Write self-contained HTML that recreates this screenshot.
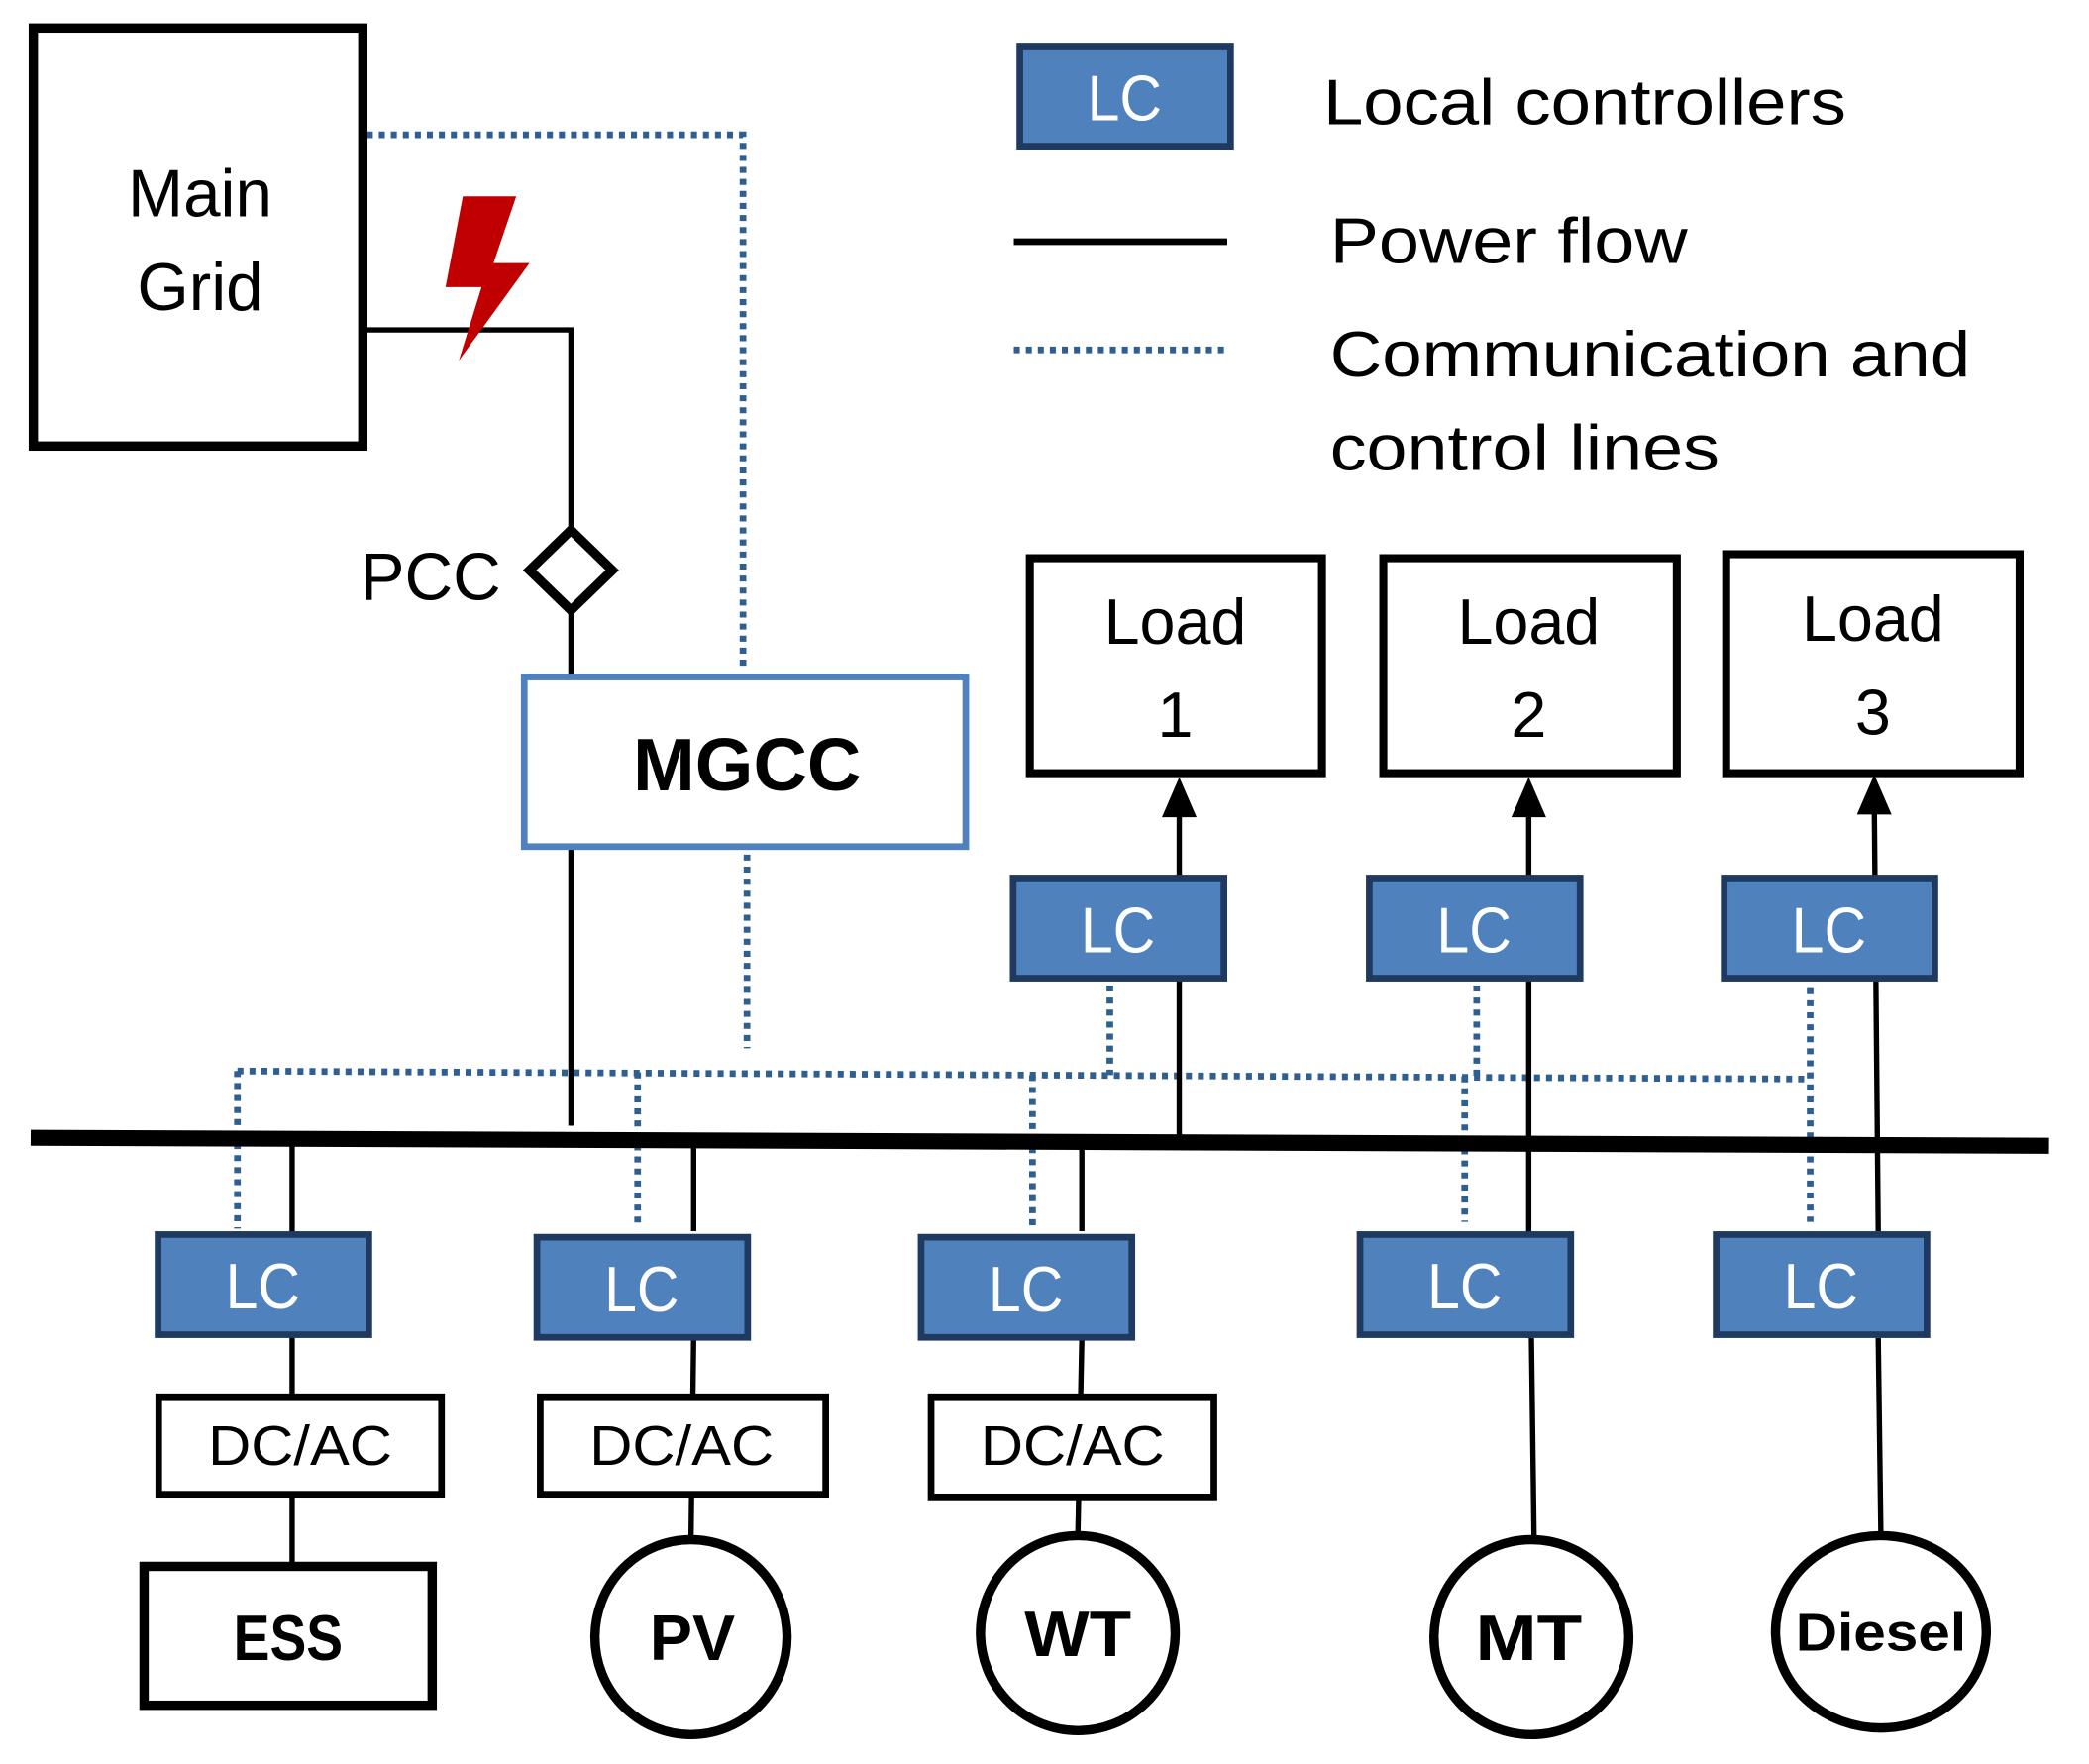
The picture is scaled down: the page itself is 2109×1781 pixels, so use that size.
<!DOCTYPE html>
<html><head><style>html,body{margin:0;padding:0;background:#fff}svg{display:block}</style></head>
<body>
<svg width="2109" height="1781" viewBox="0 0 1566 1321" preserveAspectRatio="none" xmlns="http://www.w3.org/2000/svg" font-family="Liberation Sans, sans-serif">
<defs>
<g id="lc"><rect x="2.5" y="2.5" width="158" height="75" fill="#4f81bd" stroke="#1f3a60" stroke-width="5"/><text x="81" y="58" font-size="48" fill="#fff" text-anchor="middle" textLength="56" lengthAdjust="spacingAndGlyphs">LC</text></g>
</defs>
<g stroke="#2f5f91" stroke-width="5" stroke-dasharray="4.5 4.5" fill="none">
<polyline points="275,101 557,101 557,500"/>
<line x1="560" y1="640" x2="560" y2="785"/>
<line x1="178" y1="802" x2="1355" y2="808"/>
<line x1="178" y1="802" x2="178" y2="920"/>
<line x1="478" y1="803" x2="478" y2="920"/>
<line x1="774" y1="805" x2="774" y2="920"/>
<line x1="832" y1="738" x2="832" y2="805"/>
<line x1="1107" y1="738" x2="1107" y2="806"/>
<line x1="1098" y1="806" x2="1098" y2="915"/>
<line x1="1357" y1="740" x2="1357" y2="915"/>
<line x1="760" y1="262" x2="918" y2="262"/>
</g>
<g stroke="#000" stroke-width="4" fill="none">
<polyline points="275,247 428,247 428,400"/>
<line x1="428" y1="455" x2="428" y2="505"/>
<line x1="428" y1="635" x2="428" y2="843"/>
<line x1="884" y1="853" x2="884" y2="600"/>
<line x1="1146" y1="1002" x2="1146" y2="600"/>
<line x1="1405" y1="600" x2="1408" y2="922"/>
<line x1="1408" y1="1002" x2="1410" y2="1150"/>
<line x1="1148" y1="1002" x2="1150" y2="1152"/>
<line x1="219" y1="858" x2="219" y2="1172"/>
<line x1="520" y1="858" x2="520" y2="922"/>
<line x1="520" y1="1002" x2="518" y2="1153"/>
<line x1="811" y1="858" x2="811" y2="922"/>
<line x1="811" y1="1002" x2="808" y2="1150"/>
<line x1="760" y1="181" x2="920" y2="181" stroke-width="5"/>
</g>
<polygon points="884,582 871,612 897,612" fill="#000"/>
<polygon points="1146,582 1133,612 1159,612" fill="#000"/>
<polygon points="1405,580 1392,610 1418,610" fill="#000"/>
<line x1="23" y1="852" x2="1536" y2="858" stroke="#000" stroke-width="12"/>
<rect x="25" y="21" width="247" height="313" fill="none" stroke="#000" stroke-width="7"/>
<text x="150" y="162" font-size="50" text-anchor="middle">Main</text>
<text x="150" y="232" font-size="50" text-anchor="middle">Grid</text>
<polygon points="347,147 387,147 370,197 397,197 344,270 361,215 334,215" fill="#c00000"/>
<polygon points="428,397 459,427 428,457 397,427" fill="#fff" stroke="#000" stroke-width="7"/>
<text x="270" y="449" font-size="50">PCC</text>
<rect x="393" y="507" width="331" height="127" fill="#fff" stroke="#4f81bd" stroke-width="5"/>
<text x="560" y="592" font-size="56" font-weight="bold" text-anchor="middle">MGCC</text>
<g fill="#fff" stroke="#000" stroke-width="6">
<rect x="772" y="418" width="219" height="161"/>
<rect x="1037" y="418" width="220" height="161"/>
<rect x="1294" y="415" width="220" height="164"/>
</g>
<g font-size="48" text-anchor="middle">
<text x="881" y="482">Load</text><text x="881" y="552">1</text>
<text x="1146" y="482">Load</text><text x="1146" y="552">2</text>
<text x="1404" y="480">Load</text><text x="1404" y="550">3</text>
</g>
<use href="#lc" x="757" y="655"/>
<use href="#lc" x="1024" y="655"/>
<use href="#lc" x="1290" y="655"/>
<use href="#lc" x="116" y="922"/>
<use href="#lc" x="400" y="924"/>
<use href="#lc" x="688" y="924"/>
<use href="#lc" x="1017" y="922"/>
<use href="#lc" x="1284" y="922"/>
<use href="#lc" x="762" y="32"/>
<g fill="#fff" stroke="#000" stroke-width="5">
<rect x="119" y="1046" width="212" height="73"/>
<rect x="405" y="1046" width="214" height="73"/>
<rect x="698" y="1046" width="212" height="75"/>
<rect x="108" y="1173" width="216" height="104" stroke-width="7"/>
<ellipse cx="518" cy="1226" rx="72" ry="73" stroke-width="7"/>
<ellipse cx="808" cy="1223" rx="73" ry="73" stroke-width="7"/>
<ellipse cx="1148" cy="1226" rx="73" ry="73" stroke-width="7"/>
<ellipse cx="1410" cy="1222" rx="79" ry="72" stroke-width="7"/>
</g>
<g font-size="42" text-anchor="middle">
<text x="225" y="1097" textLength="138" lengthAdjust="spacingAndGlyphs">DC/AC</text>
<text x="511" y="1097" textLength="138" lengthAdjust="spacingAndGlyphs">DC/AC</text>
<text x="804" y="1097" textLength="138" lengthAdjust="spacingAndGlyphs">DC/AC</text>
</g>
<g font-size="48" font-weight="bold" text-anchor="middle">
<text x="216" y="1243" textLength="82" lengthAdjust="spacingAndGlyphs">ESS</text>
<text x="519" y="1243" textLength="64" lengthAdjust="spacingAndGlyphs">PV</text>
<text x="808" y="1240" textLength="80" lengthAdjust="spacingAndGlyphs">WT</text>
<text x="1146" y="1243" textLength="80" lengthAdjust="spacingAndGlyphs">MT</text>
<text x="1410" y="1236" font-size="40" textLength="128" lengthAdjust="spacingAndGlyphs">Diesel</text>
</g>
<g font-size="48">
<text x="992" y="93" textLength="392" lengthAdjust="spacingAndGlyphs">Local controllers</text>
<text x="997" y="197" textLength="268" lengthAdjust="spacingAndGlyphs">Power flow</text>
<text x="997" y="282" textLength="480" lengthAdjust="spacingAndGlyphs">Communication and</text>
<text x="997" y="352" textLength="292" lengthAdjust="spacingAndGlyphs">control lines</text>
</g>
</svg>
</body></html>
